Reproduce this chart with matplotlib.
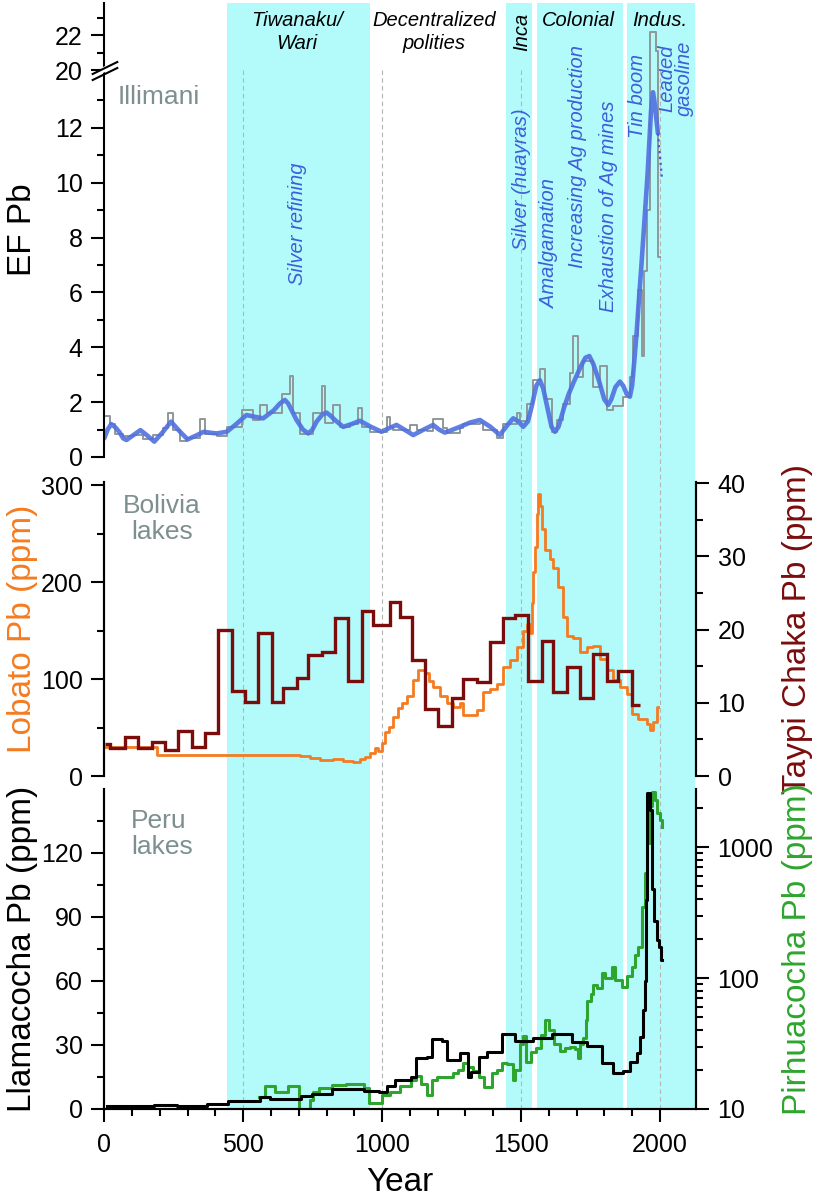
import numpy as np
import matplotlib
matplotlib.use("Agg")
import matplotlib.pyplot as plt
from matplotlib.lines import Line2D
from matplotlib.patches import Polygon
from matplotlib.ticker import LogLocator, NullFormatter, FormatStrFormatter

plt.rcParams['font.family'] = ['Liberation Sans', 'DejaVu Sans']

# ---- Illimani ice core, EF Pb (raw steps + smoothed curve)
ill_years = [0, 20, 38, 68, 104, 140, 176, 212, 230, 248, 272, 296, 344, 362, 404, 440,
             494, 536, 560, 584, 638, 668, 680, 704, 752, 782, 794, 824, 848, 884, 914,
             926, 956, 1016, 1028, 1040, 1100, 1124, 1160, 1184, 1220, 1232, 1280, 1292,
             1352, 1364, 1412, 1436, 1484, 1496, 1520, 1544, 1568, 1586, 1610, 1628, 1652,
             1676, 1688, 1706, 1724, 1760, 1784, 1808, 1832, 1868, 1892, 1904, 1922, 1934,
             1944, 1952, 1964, 1985, 1992, 2000]
ill_ef = [1.5, 1.2, 0.85, 0.75, 0.8, 0.65, 0.8, 1.05, 1.6, 1.0, 0.6, 0.7, 1.4, 0.85, 0.75, 1.1,
          1.7, 1.35, 1.9, 1.6, 2.3, 2.95, 1.6, 0.85, 1.6, 2.6, 1.25, 1.9, 1.1, 1.2, 1.8,
          1.1, 0.92, 1.47, 1.1, 1.0, 1.15, 1.0, 0.95, 1.4, 1.05, 0.86, 1.05, 1.2,
          1.25, 1.0, 0.7, 1.2, 1.6, 1.3, 1.95, 2.8, 3.2, 2.1, 0.92, 1.35, 1.95,
          3.05, 4.4, 2.9, 3.5, 2.55, 3.3, 1.7, 1.85, 2.2, 2.9, 4.4, 6.1, 3.7,
          6.8, 9.0, 22.2, 21.1, 7.3, 7.3]

smooth_years = [0, 12, 25, 40, 55, 68, 80, 105, 130, 155, 180, 210, 240, 270, 300, 330, 358,
                385, 405, 441, 475, 512, 540, 572, 610, 632, 650, 662, 672, 692, 715, 734, 748,
                765, 785, 800, 815, 830, 860, 890, 920, 960, 998, 1025, 1052, 1080, 1112, 1150,
                1184, 1205, 1226, 1255, 1280, 1315, 1352, 1390, 1424, 1450, 1472, 1490, 1508,
                1525, 1540, 1555, 1568, 1580, 1595, 1610, 1622, 1635, 1655, 1672, 1688, 1715,
                1732, 1746, 1760, 1780, 1800, 1814, 1825, 1840, 1856, 1868, 1880, 1892, 1900,
                1908, 1916, 1925, 1934, 1955, 1968, 1975, 1980, 1993]
smooth_ef = [0.68, 1.0, 1.2, 1.08, 0.9, 0.68, 0.62, 0.8, 0.98, 0.78, 0.56, 0.9, 1.29, 0.95, 0.64,
             0.78, 0.92, 0.88, 0.86, 0.92, 1.2, 1.53, 1.47, 1.41, 1.7, 1.95, 2.08, 1.95, 1.75,
             1.35, 1.0, 0.86, 0.98, 1.3, 1.55, 1.62, 1.5, 1.35, 1.1, 1.2, 1.32, 1.1, 0.92,
             1.05, 1.17, 1.0, 0.8, 1.0, 1.17, 1.0, 0.89, 1.0, 1.1, 1.25, 1.35, 1.1, 0.8, 1.15,
             1.41, 1.3, 1.1, 1.3, 1.9, 2.6, 2.8, 2.5, 1.8, 1.1, 0.92, 1.1, 1.8, 2.3, 2.69, 3.3,
             3.62, 3.68, 3.4, 2.8, 2.1, 1.9, 2.1, 2.55, 2.75, 2.6, 2.3, 2.2, 2.6, 3.5, 4.5,
             5.8, 7.06, 10.2, 12.6, 13.3, 13.0, 11.8]
gasoline_years = [1993, 2007]
gasoline_ef = [11.8, 10.2]

# ---- Bolivia lakes
taypi_edges = [2, 20, 74, 122, 170, 218, 266, 314, 362, 410, 458, 506, 554, 602, 644, 692,
               734, 782, 830, 878, 926, 968, 1028, 1064, 1106, 1154, 1202, 1250, 1292, 1340,
               1388, 1436, 1478, 1526, 1574, 1616, 1664, 1712, 1760, 1808, 1850, 1898, 1928]
taypi_pb = [4.4, 3.8, 5.3, 3.8, 4.7, 3.5, 6.1, 4.0, 5.9, 19.9, 11.6, 10.1, 19.5, 10.1, 12.0,
            13.4, 16.5, 17.0, 21.6, 13.0, 22.6, 20.6, 23.7, 21.7, 15.9, 9.1, 6.8, 10.7, 13.2,
            12.8, 18.3, 21.6, 22.0, 13.0, 18.4, 11.5, 14.9, 10.7, 16.6, 13.0, 14.4, 9.7]

lobato_years = [0, 188, 704, 740, 776, 824, 860, 896, 920, 938, 956, 974, 986, 998, 1010, 1024,
                1040, 1056, 1070, 1088, 1112, 1130, 1154, 1170, 1184, 1208, 1232, 1256, 1280,
                1292, 1316, 1340, 1364, 1388, 1412, 1436, 1460, 1484, 1508, 1520, 1532, 1538,
                1544, 1550, 1556, 1562, 1568, 1574, 1586, 1604, 1616, 1634, 1652, 1664, 1688,
                1712, 1736, 1760, 1784, 1808, 1832, 1856, 1880, 1898, 1922, 1952, 1964, 1976,
                1988, 1995]
lobato_pb = [30, 22, 20.6, 18.2, 16.5, 18, 15.8, 14.8, 18, 20, 23.5, 28.5, 26, 33.7, 45.7, 51,
             61, 70, 75, 82, 99, 109, 106, 98, 92, 82, 75, 71, 75, 63, 63, 68, 87, 90, 95, 112,
             120, 133, 149, 157, 147, 178, 210, 236, 270, 291, 278, 255, 233, 224, 214, 195,
             164, 144, 142, 128, 133, 134, 121, 109, 99, 92, 85, 64, 59, 54, 47, 56, 71, 71]

# ---- Peru lakes
llama_years = [10, 100, 180, 260, 330, 370, 445, 500, 560, 596, 709, 746, 821, 934, 990, 1019,
               1047, 1103, 1122, 1160, 1179, 1216, 1235, 1282, 1310, 1320, 1348, 1376, 1432,
               1479, 1545, 1611, 1682, 1736, 1790, 1832, 1868, 1892, 1916, 1928, 1940, 1946,
               1949, 1954, 1966, 1972, 1980, 1988, 1996, 2004, 2007]
llama_pb = [1.2, 1.4, 2.0, 1.6, 1.5, 2.3, 3.6, 3.9, 5.5, 4.7, 6.25, 7.0, 9.4, 8.6, 7.8, 10.9,
            13.6, 14.8, 23.9, 24.2, 32.8, 32.0, 23.1, 26.1, 15.0, 17.2, 24.5, 26.9, 35.2,
            32, 33.3, 35.2, 31.5, 29.5, 21.7, 16.7, 17.8, 22.2, 26.1, 33.9, 46.4, 60,
            98, 148, 140, 103, 88, 79, 76, 70, 70]

pirhua_years = [558, 577, 615, 662, 700, 742, 750, 774, 821, 870, 934, 953, 1000, 1028, 1066,
                1103, 1122, 1141, 1160, 1179, 1197, 1254, 1272, 1291, 1310, 1329, 1348, 1367,
                1395, 1414, 1432, 1451, 1470, 1479, 1498, 1508, 1517, 1536, 1555, 1573, 1588,
                1602, 1620, 1639, 1658, 1677, 1696, 1705, 1714, 1724, 1733, 1739, 1752, 1761,
                1775, 1790, 1802, 1826, 1838, 1862, 1880, 1898, 1910, 1922, 1934, 1946, 1952,
                1964, 1972, 1982, 1990, 2000, 2008]
pirhua_pb = [12.4, 15, 13.5, 15, 8, 11.7, 13.5, 14.4, 15.2, 15.6, 14.4, 11.1, 12.8, 13.5, 15,
             16.6, 17.8, 15.6, 12.9, 16.6, 17.6, 18.7, 20, 22.5, 21, 19.5, 17.6, 14.8,
             18.7, 20, 22.5, 22, 16.6, 20, 31.6, 36, 22.8, 27, 29, 36.7, 48,
             40, 31.6, 27.5, 29, 30, 28.5, 24.3, 31.6, 35, 48, 67, 76, 88,
             84, 110, 100, 122, 97, 86, 103, 122, 150, 173, 348, 630, 1070,
             2040, 2630, 2300, 1820, 1620, 1420]

# ---- historical periods (years)
periods = [(440, 955), (1445, 1540), (1556, 1866), (1883, 2125)]

CYAN = '#b3fafa'
BLUE = '#3d5ed8'
GREY_LBL = '#7d8f8f'
ORANGE = '#f47b20'
DARKRED = '#7a0c0c'
GREEN = '#2ea52e'

W, H = 819, 1199
XMAX = 2130
fig = plt.figure(figsize=(W / 100, H / 100), dpi=100)


def box(top, bottom, left=104.3, right=696):
    return [left / W, 1 - bottom / H, (right - left) / W, (bottom - top) / H]


def style(ax):
    ax.set_facecolor('none')
    ax.tick_params(axis='y', which='major', length=9.5, width=1.5, labelsize=18, pad=6, direction='out')
    ax.tick_params(axis='y', which='minor', length=5, width=1.5, direction='out')
    for s in ax.spines.values():
        s.set_linewidth(1.5)


# background: periods, guide lines and annotations (y in pixels from top)
bg = fig.add_axes(box(3, 1109))
bg.set_xlim(0, XMAX)
bg.set_ylim(1109, 3)
bg.axis('off')
for a, b in periods:
    bg.axvspan(a, b, color=CYAN, lw=0)
for x in [500, 1000, 1500, 2000]:
    bg.plot([x, x], [70, 1109], color='#b4b4b4', lw=0.8, ls=(0, (4, 3)))

per_kw = dict(fontsize=14.5, style='italic', ha='center', va='center', linespacing=1.3)
bg.text(693, 32, 'Tiwanaku/\nWari', **per_kw)
bg.text(1186, 32, 'Decentralized\npolities', **per_kw)
bg.text(1503, 32, 'Inca', rotation=90, **per_kw)
bg.text(1705, 20, 'Colonial', **per_kw)
bg.text(2000, 20, 'Indus.', **per_kw)

ev_kw = dict(fontsize=14.5, style='italic', ha='center', va='center', rotation=90,
             color=BLUE, linespacing=0.95)
bg.text(697, 224, 'Silver refining', **ev_kw)
bg.text(1503, 179, 'Silver (huayras)', **ev_kw)
bg.text(1604, 243, 'Amalgamation', **ev_kw)
bg.text(1705, 156, 'Increasing Ag production', **ev_kw)
bg.text(1816, 206, 'Exhaustion of Ag mines', **ev_kw)
bg.text(1920, 96, 'Tin boom', **ev_kw)
bg.text(2057, 78, 'Leaded\ngasoline', **ev_kw)

bg.text(49, 97, 'Illimani', fontsize=19, color=GREY_LBL, ha='left', va='center')
bg.text(208, 519, 'Bolivia\nlakes', fontsize=19, color=GREY_LBL, ha='center', va='center',
        linespacing=1.1)
bg.text(96, 834, 'Peru\nlakes', fontsize=19, color=GREY_LBL, ha='left', va='center',
        linespacing=1.1)

# top panel: broken y axis via a piecewise scale
seg_v = [-10, 14, 20, 40]
seg_p = [-274.2, 383.9, 386.9, 736.9]


def fwd(v):
    return np.interp(v, seg_v, seg_p)


def inv(p):
    return np.interp(p, seg_p, seg_v)


ax1 = fig.add_axes(box(3, 457))
style(ax1)
ax1.set_yscale('function', functions=(fwd, inv))
ax1.set_xlim(0, XMAX)
ax1.set_ylim(0, 23.83)
ax1.set_yticks([0, 2, 4, 6, 8, 10, 12, 20, 22])
ax1.set_yticks([1, 3, 5, 7, 9, 11, 13, 21, 23], minor=True)
ax1.yaxis.set_major_formatter(FormatStrFormatter('%d'))
ax1.yaxis.set_minor_formatter(NullFormatter())
ax1.xaxis.set_visible(False)
for s in ['top', 'right', 'bottom']:
    ax1.spines[s].set_visible(False)
ax1.plot(ill_years, ill_ef, drawstyle='steps-post', color='#8e9898', lw=1.4)
ax1.plot(smooth_years, smooth_ef, color='#5070e0', lw=3.3, alpha=0.9,
         solid_capstyle='round', solid_joinstyle='round')
ax1.plot(gasoline_years, gasoline_ef, color=BLUE, lw=1.6, ls=':')
ax1.set_ylabel('EF Pb', fontsize=24)
ax1.yaxis.set_label_coords(-0.112, 0.5)

# axis break marks
gap = Polygon([(101 / W, 1 - 74 / H), (109 / W, 1 - 70 / H), (109 / W, 1 - 64 / H),
               (101 / W, 1 - 68 / H)], closed=True, transform=fig.transFigure,
              facecolor='white', edgecolor='none', zorder=5)
fig.add_artist(gap)
for y0 in [74, 80]:
    fig.add_artist(Line2D([92.7 / W, 117.3 / W], [1 - y0 / H, 1 - (y0 - 12) / H],
                          transform=fig.transFigure, color='black', lw=1.5, zorder=6))

# middle panel: Bolivia lakes
ax2 = fig.add_axes(box(482, 776))
style(ax2)
ax2.set_xlim(0, XMAX)
ax2.set_ylim(0, 303.1)
ax2.set_yticks([0, 100, 200, 300])
ax2.set_yticks([50, 150, 250], minor=True)
ax2.xaxis.set_visible(False)
for s in ['top', 'bottom']:
    ax2.spines[s].set_visible(False)
ax2.plot(lobato_years, lobato_pb, drawstyle='steps-post', color=ORANGE, lw=2.0)
ax2.set_ylabel('Lobato Pb (ppm)', fontsize=24, color=ORANGE)
ax2.yaxis.set_label_coords(-0.112, 0.5)

ax2r = ax2.twinx()
style(ax2r)
ax2r.set_ylim(0, 40.15)
ax2r.set_yticks([0, 10, 20, 30, 40])
ax2r.set_yticks([5, 15, 25, 35], minor=True)
ax2r.xaxis.set_visible(False)
for s in ['top', 'bottom']:
    ax2r.spines[s].set_visible(False)
ax2r.stairs(taypi_pb, taypi_edges, baseline=None, color=DARKRED, lw=2.4)
ax2r.set_ylabel('Taypi Chaka Pb (ppm)', fontsize=24, color=DARKRED)
ax2r.yaxis.set_label_coords(1.145, 0.5)

# bottom panel: Peru lakes
ax3 = fig.add_axes(box(789, 1109))
style(ax3)
ax3.set_xlim(0, XMAX)
ax3.set_ylim(0, 150)
ax3.set_yticks([0, 30, 60, 90, 120])
ax3.set_yticks([15, 45, 75, 105, 135], minor=True)
ax3.spines['top'].set_visible(False)
ax3.set_xticks([0, 500, 1000, 1500, 2000])
ax3.set_xticks(np.arange(100, 2100, 100), minor=True)
ax3.tick_params(axis='x', which='major', length=9.5, width=1.5, labelsize=18, pad=8)
ax3.tick_params(axis='x', which='minor', length=5, width=1.5)
ax3.set_xlabel('Year', fontsize=24, labelpad=7)
ax3.set_ylabel('Llamacocha Pb (ppm)', fontsize=24)
ax3.yaxis.set_label_coords(-0.112, 0.5)

ax3r = ax3.twinx()
style(ax3r)
ax3r.set_yscale('log')
ax3r.set_ylim(10, 2773)
ax3r.yaxis.set_major_locator(LogLocator(base=10))
ax3r.yaxis.set_minor_locator(LogLocator(base=10, subs=np.arange(2, 10)))
ax3r.yaxis.set_major_formatter(FormatStrFormatter('%d'))
ax3r.yaxis.set_minor_formatter(NullFormatter())
ax3r.spines['top'].set_visible(False)
ax3r.plot(pirhua_years, pirhua_pb, drawstyle='steps-post', color=GREEN, lw=2.2)
ax3r.set_ylabel('Pirhuacocha Pb (ppm)', fontsize=24, color=GREEN)
ax3r.yaxis.set_label_coords(1.145, 0.5)

ax3.plot(llama_years, llama_pb, drawstyle='steps-post', color='black', lw=2.2, zorder=3)
ax3.set_zorder(ax3r.get_zorder() + 1)

fig.savefig('out.png', dpi=100)
